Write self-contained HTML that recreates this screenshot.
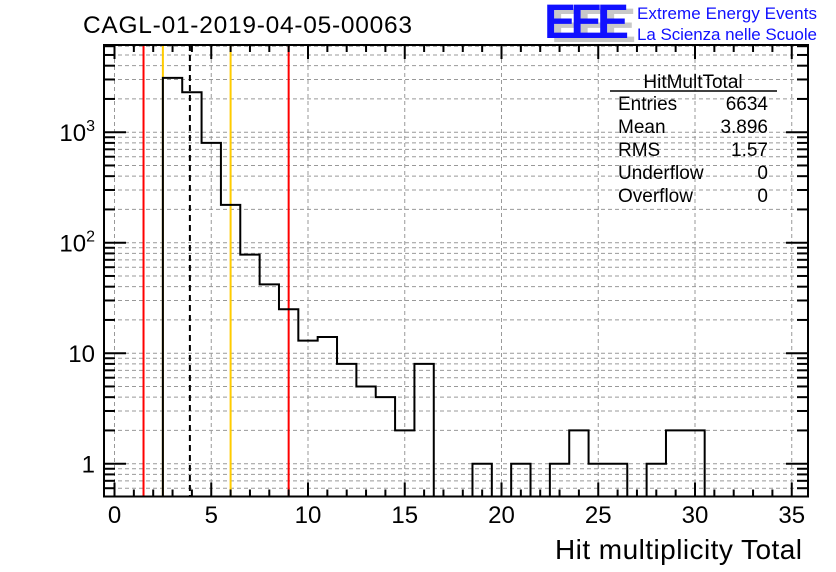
<!DOCTYPE html>
<html><head><meta charset="utf-8"><style>
body{margin:0;background:#fff;}
svg{display:block;font-family:"Liberation Sans",Arial,sans-serif;}
</style></head><body>
<svg id="c" width="836" height="572" viewBox="0 0 836 572">
<rect width="836" height="572" fill="#fff"/>
<text x="83" y="33" font-size="24.5" textLength="329">CAGL-01-2019-04-05-00063</text>
<g>
<text x="551" y="42" font-size="48" font-weight="bold" fill="#c8c8c8" letter-spacing="-3" textLength="82">EEE</text>
<text x="544" y="38" font-size="48" font-weight="bold" fill="#1010ff" letter-spacing="-3" textLength="82">EEE</text>
<text x="637" y="19" font-size="17" fill="#1010ff" textLength="180">Extreme Energy Events</text>
<text x="637" y="40" font-size="17" fill="#1010ff" textLength="180">La Scienza nelle Scuole</text>
</g>
<g id="grid"></g>
<g id="marks"></g>
<g id="axes"></g>
<g font-size="19">
<text x="693" y="88" text-anchor="middle">HitMultTotal</text>
<line x1="610" y1="91" x2="777" y2="91" stroke="#000" stroke-width="1.5"/>
<text x="618" y="110">Entries</text><text x="768" y="110" text-anchor="end">6634</text>
<text x="618" y="133">Mean</text><text x="768" y="133" text-anchor="end">3.896</text>
<text x="618" y="156">RMS</text><text x="768" y="156" text-anchor="end">1.57</text>
<text x="618" y="179">Underflow</text><text x="768" y="179" text-anchor="end">0</text>
<text x="618" y="202">Overflow</text><text x="768" y="202" text-anchor="end">0</text>
</g>
<text x="802" y="559" font-size="28" text-anchor="end" textLength="247">Hit multiplicity Total</text>
</svg>
<script>
const binCenters=[3,4,5,6,7,8,9,10,11,12,13,14,15,16,17,18,19,20,21,22,23,24,25,26,27,28,29,30];
const counts=[3103,2300,800,220,78,42,25,13,14,8,5,4,2,8,0,0,1,0,1,0,1,2,1,1,0,1,2,2];
const xTicks=[0,5,10,15,20,25,30,35];
const yTickVals=[1,10,100,1000];
const yTickLabels=["1","10","10²","10³"];
const cutLines=[{v:1.5,c:"#ff0000",d:""},{v:2.5,c:"#ffcc00",d:""},{v:3.896,c:"#000",d:"6,4"},{v:6,c:"#ffcc00",d:""},{v:9,c:"#ff0000",d:""}];
const NS="http://www.w3.org/2000/svg";
const L=104,R=808,T=45,B=496.5;
const X=v=>114.5+v*19.35;
const Y=v=>{const y=463.7-110.5*Math.log10(Math.max(v,1e-9));return Math.min(B,Math.max(T,y));};
function mk(p,tag,a){const e=document.createElementNS(NS,tag);for(const k in a)e.setAttribute(k,a[k]);p.appendChild(e);return e;}
const grid=document.getElementById('grid'),marks=document.getElementById('marks'),axes=document.getElementById('axes');
xTicks.forEach(t=>{const g=mk(grid,'line',{x1:X(t),x2:X(t),y1:T,y2:B,stroke:'#999','stroke-dasharray':'4,3','stroke-width':1});

});
const yMin=Math.pow(10,(463.7-B)/110.5),yMax=Math.pow(10,(463.7-T)/110.5);
for(let d=-1;d<4;d++)for(let k=1;k<10;k++){const v=k*Math.pow(10,d);if(v<yMin||v>yMax)continue;const y=463.7-110.5*Math.log10(v);
const g=mk(grid,'line',{x1:L,x2:R,y1:y,y2:y,stroke:'#999','stroke-dasharray':'4,3','stroke-width':1});


const tl=k==1?22:11;
const t=mk(axes,'line',{x1:L,x2:L+tl,y1:y,y2:y,stroke:'#000','stroke-width':2});


const t2=mk(axes,'line',{x1:R,x2:R-tl,y1:y,y2:y,stroke:'#000','stroke-width':2});

}
cutLines.forEach(c=>{const l=mk(marks,'line',{x1:X(c.v),x2:X(c.v),y1:T,y2:B,stroke:c.c,'stroke-width':2});if(c.d)l.setAttribute('stroke-dasharray',c.d);

});
let d=`M${X(binCenters[0]-0.5)},${B}`;
binCenters.forEach((c,i)=>{const y=Y(counts[i]);d+=` L${X(c-0.5)},${y} L${X(c+0.5)},${y}`;});
d+=` L${X(binCenters[binCenters.length-1]+0.5)},${B}`;
const h=mk(marks,'path',{d:d,fill:'none',stroke:'#000','stroke-width':2});


const f=mk(axes,'rect',{x:L,y:T,width:R-L,height:B-T,fill:'none',stroke:'#000','stroke-width':2});


for(let v=0;v<=35.01;v+=1){const major=Math.abs(v%5)<1e-6;const tl=major?14:7;
const t=mk(axes,'line',{x1:X(v),x2:X(v),y1:B,y2:B-tl,stroke:'#000','stroke-width':2});


const t2=mk(axes,'line',{x1:X(v),x2:X(v),y1:T,y2:T+tl,stroke:'#000','stroke-width':2});

}
xTicks.forEach(t=>{const e=mk(axes,'text',{x:X(t),y:523,'font-size':24,'text-anchor':'middle'});e.textContent=t;

});
yTickVals.forEach((v,i)=>{const e=mk(axes,'text',{x:95,y:463.7-110.5*Math.log10(v)+9,'font-size':24,'text-anchor':'end'});
if(v>=100){e.textContent="10";const s=mk(e,'tspan',{dy:-10,'font-size':16});s.textContent=String(Math.round(Math.log10(v)));}else e.textContent=yTickLabels[i];

});
</script>
</body></html>
